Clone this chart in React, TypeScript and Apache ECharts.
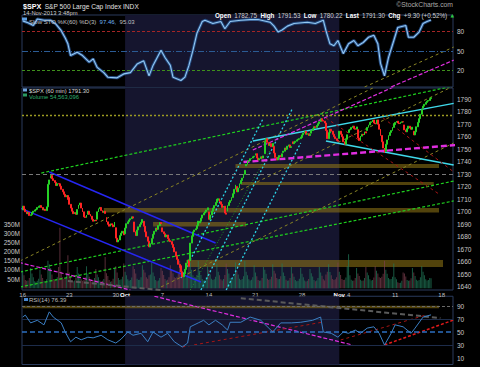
import React, { useEffect, useRef } from "react";
import * as echarts from "echarts";

const FONT = "'Liberation Sans', Arial, sans-serif";

// ---------------- data ----------------
// 60-minute bars, 7 per session, Sep 16 .. Nov 14 2013
const dayOpens = [1701.5, 1697.7, 1705.0, 1727.0, 1722.4, 1711.4, 1702.6, 1698.0, 1694.1, 1695.5, 1687.3, 1682.4, 1691.9, 1692.4, 1678.8, 1687.2, 1676.2, 1656.9, 1660.9, 1691.1, 1699.9, 1709.2, 1700.5, 1720.2, 1736.7, 1745.2, 1746.5, 1752.3, 1747.5, 1756.0, 1759.4, 1762.9, 1772.3, 1763.2, 1758.7, 1763.4, 1765.7, 1765.0, 1770.7, 1748.4, 1769.7, 1769.5, 1764.4, 1782.8];

const hourlyCloses = [
  [1704.5, 1702.0, 1700.0, 1698.5, 1699.5, 1697.0, 1697.6],
  [1699.5, 1700.5, 1701.5, 1702.0, 1703.5, 1704.5, 1704.8],
  [1703.5, 1701.5, 1702.0, 1701.0, 1704.0, 1722.0, 1725.5],
  [1729.0, 1726.5, 1725.0, 1723.5, 1721.0, 1722.5, 1722.3],
  [1720.5, 1718.0, 1716.0, 1714.0, 1712.0, 1713.0, 1709.9],
  [1706.0, 1703.0, 1700.5, 1698.5, 1699.5, 1698.0, 1701.8],
  [1705.5, 1707.0, 1703.0, 1700.0, 1696.0, 1695.5, 1697.4],
  [1700.5, 1698.0, 1696.5, 1694.0, 1692.5, 1693.5, 1692.8],
  [1700.0, 1702.5, 1703.5, 1701.0, 1699.5, 1700.5, 1698.7],
  [1692.0, 1690.0, 1688.5, 1690.5, 1689.5, 1688.0, 1691.8],
  [1679.0, 1676.0, 1677.5, 1681.0, 1683.0, 1684.5, 1681.6],
  [1687.0, 1690.5, 1692.0, 1693.5, 1694.5, 1696.0, 1695.0],
  [1684.0, 1681.0, 1685.5, 1688.0, 1690.0, 1691.5, 1693.9],
  [1688.5, 1684.0, 1680.0, 1676.5, 1672.0, 1674.5, 1678.7],
  [1682.0, 1684.5, 1687.0, 1686.0, 1689.0, 1691.5, 1690.5],
  [1684.0, 1682.5, 1680.0, 1681.5, 1678.5, 1677.0, 1676.1],
  [1674.0, 1671.5, 1668.0, 1664.5, 1662.0, 1658.0, 1655.5],
  [1652.0, 1648.0, 1650.5, 1654.0, 1659.0, 1661.5, 1656.4],
  [1675.0, 1680.5, 1684.0, 1685.5, 1686.5, 1689.0, 1692.6],
  [1692.5, 1695.0, 1697.5, 1699.0, 1700.0, 1701.5, 1703.2],
  [1694.0, 1697.5, 1700.5, 1703.0, 1705.0, 1707.5, 1710.1],
  [1710.5, 1708.0, 1706.0, 1703.5, 1704.5, 1699.0, 1698.1],
  [1705.0, 1707.5, 1709.0, 1711.5, 1714.5, 1718.0, 1721.5],
  [1716.0, 1719.0, 1722.5, 1725.0, 1727.0, 1730.0, 1733.2],
  [1738.0, 1740.5, 1741.0, 1742.5, 1743.0, 1744.0, 1744.5],
  [1746.5, 1743.0, 1741.5, 1742.5, 1744.0, 1743.0, 1744.7],
  [1756.0, 1758.5, 1755.5, 1753.0, 1754.5, 1752.0, 1754.7],
  [1747.0, 1743.5, 1741.5, 1743.5, 1745.0, 1744.0, 1746.4],
  [1748.5, 1751.0, 1750.0, 1752.5, 1753.5, 1751.5, 1752.1],
  [1754.5, 1755.5, 1756.5, 1757.5, 1758.0, 1758.5, 1759.8],
  [1761.5, 1763.0, 1764.5, 1762.0, 1762.5, 1761.0, 1762.1],
  [1765.0, 1766.5, 1768.0, 1767.5, 1769.0, 1770.5, 1772.0],
  [1774.5, 1773.0, 1772.5, 1771.0, 1765.0, 1758.5, 1763.3],
  [1766.0, 1764.5, 1762.0, 1760.0, 1758.5, 1757.0, 1756.5],
  [1764.5, 1762.0, 1760.0, 1756.0, 1754.0, 1758.0, 1761.6],
  [1765.5, 1766.0, 1767.5, 1768.5, 1766.5, 1766.0, 1767.9],
  [1759.0, 1757.0, 1760.5, 1762.0, 1761.5, 1764.0, 1763.0],
  [1767.5, 1769.5, 1771.5, 1772.0, 1773.5, 1771.0, 1770.5],
  [1773.5, 1770.0, 1766.0, 1761.0, 1756.0, 1751.0, 1747.2],
  [1754.0, 1757.5, 1761.0, 1763.5, 1765.0, 1767.5, 1770.6],
  [1771.5, 1772.5, 1771.0, 1770.5, 1771.5, 1772.0, 1771.9],
  [1765.5, 1764.0, 1766.5, 1768.5, 1767.0, 1766.0, 1767.7],
  [1761.5, 1764.0, 1768.0, 1771.5, 1774.5, 1778.0, 1782.0],
  [1784.5, 1786.0, 1787.5, 1788.5, 1789.0, 1790.5, 1791.3],
];

// volume in millions of shares per hourly bar
const hourlyVolumesM = [
  [95, 70, 45, 40, 42, 55, 110], [80, 60, 38, 35, 40, 52, 100], [75, 55, 40, 35, 48, 150, 130],
  [110, 75, 50, 42, 45, 60, 115], [330, 90, 60, 50, 55, 80, 180], [85, 65, 45, 38, 42, 58, 115],
  [80, 70, 48, 40, 45, 60, 120], [78, 62, 40, 36, 44, 56, 105], [75, 60, 42, 38, 40, 50, 170],
  [82, 66, 44, 35, 38, 52, 110], [120, 85, 55, 45, 48, 62, 135], [90, 70, 48, 40, 44, 58, 120],
  [105, 80, 52, 44, 46, 60, 125], [100, 85, 60, 52, 70, 75, 140], [85, 65, 44, 38, 42, 55, 110],
  [95, 72, 50, 42, 46, 60, 125], [100, 82, 60, 55, 62, 78, 150], [120, 95, 65, 58, 66, 85, 160],
  [140, 100, 70, 60, 58, 72, 150], [95, 72, 50, 42, 45, 60, 120], [100, 75, 52, 45, 48, 62, 130],
  [90, 70, 48, 42, 50, 72, 135], [105, 80, 55, 48, 52, 68, 140], [95, 75, 52, 45, 50, 65, 150],
  [90, 70, 48, 42, 46, 60, 125], [85, 65, 45, 40, 42, 55, 115], [100, 78, 52, 45, 48, 62, 130],
  [95, 80, 55, 48, 50, 65, 135], [85, 66, 46, 40, 42, 56, 115], [80, 62, 44, 38, 40, 52, 110],
  [78, 60, 42, 36, 40, 50, 105], [82, 64, 45, 38, 42, 55, 115], [85, 68, 48, 42, 75, 90, 130],
  [88, 70, 50, 44, 48, 60, 140], [90, 72, 50, 44, 46, 58, 120], [185, 70, 46, 40, 42, 55, 110],
  [80, 66, 46, 40, 42, 55, 115], [85, 70, 48, 42, 45, 58, 120], [95, 80, 60, 55, 62, 78, 150],
  [100, 78, 55, 48, 50, 62, 135], [60, 48, 32, 28, 30, 40, 85], [80, 64, 45, 40, 42, 54, 110],
  [85, 66, 46, 40, 44, 60, 120], [90, 70, 48, 42, 45, 55, 54.6],
];

const slotCount = 324;
const tickBars = [0, 35, 70, 77, 105, 140, 175, 210, 238, 245, 280, 315];
const tickLabels = ["16", "23", "30", "Oct", "7", "14", "21", "28", "Nov", "4", "11", "18"];
const monthNames = ["Oct", "Nov"];
const octoberSpan = [77, 238];

// [bar index, value]
const slowStoch = [[0,96],[4,93],[8,89],[11,99],[16,97],[21,97],[25,91],[29,81],[32,70],[34,61],[36,43],[41,48],[45,43],[50,33],[53,38],[56,25],[61,17],[64,10],[71,9],[76,15],[81,17],[86,30],[91,35],[95,12],[98,28],[104,51],[107,40],[111,28],[113,10],[119,5],[122,10],[125,28],[128,51],[131,77],[135,95],[137,97],[143,92],[149,95],[152,84],[156,95],[164,97],[171,98],[177,98],[186,94],[189,88],[192,79],[195,82],[199,88],[204,92],[214,94],[220,92],[226,97],[228,81],[231,61],[234,58],[237,66],[241,46],[245,61],[249,66],[252,58],[256,63],[260,71],[264,74],[267,61],[269,31],[272,12],[275,40],[279,66],[282,86],[288,89],[290,71],[294,71],[298,79],[301,92],[304,95],[307,97.46]];
const rsi14 = [[0,73],[2,76],[6,64],[11,68],[16,61],[20,81],[23,73],[29,64],[32,50],[36,35],[40,42],[44,38],[49,42],[53,41],[59,45],[64,38],[70,33],[74,39],[79,50],[83,45],[89,48],[94,35],[98,50],[104,42],[109,48],[114,35],[120,27],[124,33],[126,58],[132,64],[136,68],[140,61],[145,68],[150,61],[154,53],[156,65],[164,65],[171,73],[179,68],[188,50],[194,64],[202,64],[209,65],[218,68],[224,73],[226,50],[232,48],[237,42],[241,50],[245,48],[250,53],[254,48],[259,56],[264,58],[268,48],[272,30],[277,48],[280,61],[286,58],[292,48],[295,56],[301,73],[307,76.39]];

const stochLevels = [80, 50, 20];
const rsiTickValues = [10, 30, 50, 70, 90];

// [text, bar index, price]
const priceNotes = [
  ["1729.86", 21, 1737.0], ["1703.85", 57, 1710.3], ["1691.88", 53, 1688.7], ["1696.55", 73, 1703.1],
  ["1674.99", 70, 1671.5], ["1691.94", 104, 1698.3], ["1670.36", 94, 1666.3], ["1646.47", 119, 1649.5],
  ["1696.70", 152, 1693.5], ["1759.33", 182, 1765.4], ["1775.22", 223, 1781.4], ["1768.78", 251, 1774.2],
  ["1774.54", 266, 1781.4], ["1740.50", 189, 1737.8], ["1755.72", 231, 1753.4], ["1755.76", 253, 1753.4],
  ["1746.20", 271, 1743.8], ["1760.64", 294, 1758.2],
];
const gapNote = ["GAPS", 257, 1697.2];

// [start bar, end bar, low price, high price]
const priceBands = [
  [61, 313, 1699.5, 1703.1],
  [98, 168, 1688.3, 1691.9],
  [123, 316, 1655.9, 1661.5],
  [160, 313, 1735.0, 1738.2],
  [164, 309, 1721.4, 1723.9],
];
const rsiBands = [[0, 313, 86.5, 90.5]];
const resistanceLevel = 1729.86;
const dottedLevel = 1777;

// trendline segments: [[bar, price], [bar, price]]
const mainTrendlines = {
  green: [[[14, 1731.0], [324, 1800.6]], [[-2, 1651.9], [324, 1724.6]], [[-2, 1639.9], [324, 1708.7]]],
  blue: [[[20, 1731.8], [145, 1675.1]], [[-4, 1703.9], [134, 1643.9]]],
  olive: [[[-2, 1660.7], [324, 1830.7]], [[104, 1639.9], [324, 1755.0]], [[164, 1717.5], [324, 1800.6]]],
  cyanDotted: [[[119, 1647.1], [181, 1775.0]], [[134, 1637.5], [203, 1783.0]], [[153, 1637.5], [209, 1755.0]]],
  greenDotted: [[[126, 1637.5], [186, 1749.3]]],
  cyanSolid: [[[173, 1756.6], [324, 1786.7]], [[228, 1756.6], [324, 1737.4]]],
  magenta: [[[173, 1749.4], [324, 1821.4]], [[-16, 1663.0], [81, 1637.5]]],
  magentaThick: [[[166, 1739.8], [326, 1753.4]]],
  red: [[[228, 1775.0], [314, 1713.5]], [[271, 1775.0], [337, 1721.4]]],
  grey: [[[34, 1644.7], [104, 1637.5]]],
};
const stochTrendlines = {
  olive: [[[257, -5], [324, 56]]],
  magenta: [[[277, -5], [324, 36]]],
};
const rsiTrendlines = {
  magenta: [[[99, 105], [248, 30]]],
  red: [[[120, 27], [226, 65.4]], [[239, 37.7], [303, 76]]],
  brightRed: [[[272, 30], [324, 68.5]]],
  grey: [[[164, 102], [314, 71.5]]],
};

// ---------------- styles ----------------
const LINE_STYLES: any = {
  green: { color: "#1fd01f", width: 1.2, type: [3, 2] },
  blue: { color: "#2626f2", width: 1.5, type: "solid" },
  olive: { color: "#8a8524", width: 1, type: [3, 3] },
  cyanDotted: { color: "#2bd3e6", width: 1.3, type: [2, 2] },
  greenDotted: { color: "#22b422", width: 0.8, type: [1, 2] },
  cyanSolid: { color: "#3fd9ea", width: 1.5, type: "solid" },
  magenta: { color: "#e02ee0", width: 1.2, type: [4, 2] },
  magentaThick: { color: "#e02ee0", width: 2.4, type: [6, 3] },
  red: { color: "#a51515", width: 1, type: [3, 3] },
  brightRed: { color: "#e01a1a", width: 1.5, type: [3, 2] },
  grey: { color: "#5a5a5a", width: 2, type: [5, 3] },
};
const UP = "#25d025";
const DOWN = "#ff2323";
const VOL_UP = "rgba(34,125,92,0.7)";
const VOL_DOWN = "rgba(125,64,80,0.7)";
const SHADE = "#15152e";
const BAND = "rgba(150,122,22,0.55)";
const FRAME = "#2a3b5c";

function buildOption() {
  const categories = Array.from({ length: slotCount }, (_, i) => String(i));
  const candles: number[][] = [];
  const vols: any[] = [];
  hourlyCloses.forEach((day, d) => {
    day.forEach((c, h) => {
      const o = h === 0 ? dayOpens[d] : day[h - 1];
      candles.push([o, c, Math.min(o, c), Math.max(o, c)]);
      vols.push({ value: hourlyVolumesM[d][h], itemStyle: { color: c >= o ? VOL_UP : VOL_DOWN } });
    });
  });

  const lineSet = (set: any, xi: number, yi: number) =>
    Object.keys(set).flatMap((key) =>
      set[key].map((seg: number[][]) => ({
        type: "line", xAxisIndex: xi, yAxisIndex: yi, data: seg, symbol: "none",
        silent: true, z: 4, clip: true, lineStyle: LINE_STYLES[key],
      }))
    );

  const shade = (xi: number, yi: number, y0: number) => ({
    type: "line", xAxisIndex: xi, yAxisIndex: yi, data: [[octoberSpan[0], y0]], symbol: "none",
    silent: true, z: 0, lineStyle: { opacity: 0 },
    markArea: { silent: true, itemStyle: { color: SHADE }, data: [[{ xAxis: octoberSpan[0] }, { xAxis: octoberSpan[1] }]] },
  });

  const bandSeries = (bands: number[][], xi: number, yi: number) => ({
    type: "line", xAxisIndex: xi, yAxisIndex: yi, data: [[bands[0][0], bands[0][2]]], symbol: "none",
    silent: true, z: 1, lineStyle: { opacity: 0 },
    markArea: { silent: true, itemStyle: { color: BAND }, data: bands.map((b) => [{ xAxis: b[0], yAxis: b[2] }, { xAxis: b[1], yAxis: b[3] }]) },
  });

  const xAxis = (gridIndex: number, labels: boolean) => ({
    type: "category", gridIndex, data: categories, boundaryGap: true,
    axisLine: { show: false }, axisTick: { show: false }, splitLine: { show: false },
    axisLabel: labels
      ? {
          show: true, interval: 0, color: "#bdbdbd", fontSize: 6, margin: 1.5, fontFamily: FONT,
          formatter: (_v: string, idx: number) => {
            const k = tickBars.indexOf(idx);
            if (k < 0) return "";
            const t = tickLabels[k];
            return monthNames.includes(t) ? `{m|${t}}` : t;
          },
          rich: { m: { color: "#ffffff", fontWeight: "bold", fontSize: 6, fontFamily: FONT } },
        }
      : { show: false },
  });

  const yCommon = { axisLine: { show: false }, axisTick: { show: false }, splitLine: { show: false } };
  const yLabel = (fmt: (v: number) => string) => ({ color: "#c8c8c8", fontSize: 6.5, margin: 4, fontFamily: FONT, formatter: fmt });

  const levelLine = (v: number, color: string, type: any, width = 1) => ({ yAxis: v, lineStyle: { color, type, width } });

  return {
    backgroundColor: "#000000",
    animation: false,
    textStyle: { fontFamily: FONT },
    grid: [
      { left: 22, right: 27, top: 15, height: 72, show: true, borderColor: FRAME, borderWidth: 1, backgroundColor: "transparent" },
      { left: 22, right: 27, top: 88, height: 202, show: true, borderColor: FRAME, borderWidth: 1, backgroundColor: "transparent" },
      { left: 22, right: 27, top: 296.25, height: 68.25, show: true, borderColor: FRAME, borderWidth: 1, backgroundColor: "transparent" },
    ],
    xAxis: [xAxis(0, false), xAxis(1, true), xAxis(2, false)],
    yAxis: [
      { type: "value", gridIndex: 0, min: -5, max: 105, interval: 5, position: "right", ...yCommon,
        axisLabel: yLabel((v) => (stochLevels.includes(v) ? String(v) : "")) },
      { type: "value", gridIndex: 1, min: 1637.5, max: 1799, interval: 2.5, position: "right", ...yCommon,
        axisLabel: yLabel((v) => (v % 10 === 0 && v >= 1640 && v <= 1790 ? String(v) : "")) },
      { type: "value", gridIndex: 1, min: -10, max: 1092, interval: 10, position: "left", ...yCommon,
        axisLabel: { ...yLabel((v) => (v >= 50 && v <= 350 && v % 50 === 0 ? `${v}M` : "")), margin: 2 } },
      { type: "value", gridIndex: 2, min: 0, max: 105, interval: 10, position: "right", ...yCommon,
        axisLabel: yLabel((v) => (rsiTickValues.includes(v) ? String(v) : "")) },
    ],
    series: [
      // ---- stochastic panel ----
      shade(0, 0, 50),
      ...lineSet(stochTrendlines, 0, 0),
      {
        type: "line", xAxisIndex: 0, yAxisIndex: 0, data: slowStoch, symbol: "none", silent: true, z: 5,
        lineStyle: { color: "#23497e", width: 3 },
        markLine: {
          silent: true, symbol: ["none", "none"], label: { show: false },
          data: [levelLine(80, "#a52525", [3, 2]), levelLine(50, "#2b5b94", [6, 2, 1, 2]), levelLine(20, "#3f8f1c", [3, 2])],
        },
      },
      { type: "line", xAxisIndex: 0, yAxisIndex: 0, data: slowStoch, symbol: "none", silent: true, z: 6,
        lineStyle: { color: "#94c8f2", width: 1.1 } },

      // ---- price panel ----
      shade(1, 1, 1700),
      bandSeries(priceBands, 1, 1),
      { type: "bar", xAxisIndex: 1, yAxisIndex: 2, data: vols, barWidth: 1, silent: true, z: 2 },
      {
        type: "line", xAxisIndex: 1, yAxisIndex: 1, data: [[0, resistanceLevel]], symbol: "none", silent: true, z: 3,
        lineStyle: { opacity: 0 },
        markLine: {
          silent: true, symbol: ["none", "none"], label: { show: false },
          data: [levelLine(resistanceLevel, "#7a7a7a", [4, 3]), levelLine(dottedLevel, "#9c9a22", [2, 2], 1.3)],
        },
      },
      ...lineSet(mainTrendlines, 1, 1),
      {
        type: "candlestick", xAxisIndex: 1, yAxisIndex: 1, data: candles, barWidth: 1.4, barMinWidth: 1.4, silent: true, z: 6,
        itemStyle: { color: UP, color0: DOWN, borderColor: UP, borderColor0: DOWN, borderWidth: 1 },
      },
      {
        type: "scatter", xAxisIndex: 1, yAxisIndex: 1, symbolSize: 1, silent: true, z: 8,
        itemStyle: { opacity: 0 },
        data: priceNotes.map((n) => ({ name: n[0], value: [n[1], n[2]] })),
        label: {
          show: true, position: "inside", formatter: "{b}", color: "#dcdcdc", fontSize: 6, fontFamily: FONT,
          backgroundColor: "rgba(58,62,80,0.92)", padding: [1, 1, 0, 1], borderRadius: 1,
        },
      },
      {
        type: "scatter", xAxisIndex: 1, yAxisIndex: 1, symbolSize: 1, silent: true, z: 8,
        itemStyle: { opacity: 0 },
        data: [{ name: gapNote[0], value: [gapNote[1], gapNote[2]] }],
        label: { show: true, position: "inside", formatter: "{b}", color: "#c8841e", fontSize: 6.5, fontFamily: FONT },
      },

      // ---- RSI panel ----
      shade(2, 3, 50),
      bandSeries(rsiBands, 2, 3),
      ...lineSet(rsiTrendlines, 2, 3),
      {
        type: "line", xAxisIndex: 2, yAxisIndex: 3, data: rsi14, symbol: "none", silent: true, z: 5,
        lineStyle: { color: "#3b7fc4", width: 1 },
        markLine: {
          silent: true, symbol: ["none", "none"], label: { show: false },
          data: [levelLine(90, "#6a6a6a", [3, 2]), levelLine(70, "#1d2c4a", "solid"), levelLine(50, "#2d6fc0", [5, 3], 1.6), levelLine(30, "#1d2c4a", "solid")],
        },
      },
    ],
    graphic: [
      { type: "text", left: 23, top: 0.5, z: 100, style: {
        text: "{a|$SPX} {b|S&P 500 Large Cap Index INDX}",
        rich: { a: { fill: "#ffffff", fontWeight: "bold", fontSize: 7.2, lineHeight: 7.5, fontFamily: FONT }, b: { fill: "#e0e0e0", fontSize: 6.6, lineHeight: 7.5, fontFamily: FONT } } } },
      { type: "text", left: 23, top: 9.8, z: 100, style: { text: "14-Nov-2013 3:48pm", fill: "#cfcfcf", fontSize: 5.8, lineHeight: 5.8, fontFamily: FONT } },
      { type: "text", right: 27, top: 0.5, z: 100, style: { text: "©StockCharts.com", fill: "#a8a8a8", fontSize: 6.8, lineHeight: 7.5, fontFamily: FONT } },
      { type: "text", right: 26, top: 9.5, z: 100, style: {
        text: "{k|Open} {v|1782.75} {k|High} {v|1791.53} {k|Low} {v|1780.22} {k|Last} {v|1791.30} {k|Chg} {v|+9.30 (+0.52%)} {g|▲}",
        rich: {
          k: { fill: "#ffffff", fontWeight: "bold", fontSize: 6.3, lineHeight: 6.5, fontFamily: FONT },
          v: { fill: "#cfcfcf", fontSize: 6.3, lineHeight: 6.5, fontFamily: FONT },
          g: { fill: "#2ecc40", fontSize: 4.5, lineHeight: 6.5, fontFamily: "DejaVu Sans" },
        } } },
      // stochastic legend
      { type: "rect", left: 22, top: 17.5, z: 100, shape: { width: 5, height: 3 }, style: { fill: "#5f9fe0" } },
      { type: "text", left: 29, top: 16, z: 100, style: {
        text: "{a|Slow STO %K(60) %D(3)} {b|97.46,} {a|95.03}",
        rich: { a: { fill: "#c0c0c0", fontSize: 6, lineHeight: 6, fontFamily: FONT }, b: { fill: "#6fb4f2", fontSize: 6, lineHeight: 6, fontFamily: FONT } } } },
      // price legend
      { type: "rect", left: 23, top: 88.5, z: 100, shape: { width: 4, height: 3 }, style: { fill: "#6fa2dd" } },
      { type: "text", left: 29, top: 87.5, z: 100, style: { text: "$SPX (60 min) 1791.30", fill: "#d8d8d8", fontSize: 5.8, lineHeight: 5.8, fontFamily: FONT } },
      { type: "rect", left: 23, top: 93.5, z: 100, shape: { width: 4, height: 3 }, style: { fill: "#2a9a62" } },
      { type: "text", left: 29, top: 93.5, z: 100, style: { text: "Volume 54,563,096", fill: "#2fb070", fontSize: 5.8, lineHeight: 5.8, fontFamily: FONT } },
      // RSI legend
      { type: "rect", left: 24, top: 298, z: 100, shape: { width: 4, height: 3 }, style: { fill: "#4a88d0" } },
      { type: "text", left: 29, top: 297, z: 100, style: { text: "RSI(14) 76.39", fill: "#bfbfbf", fontSize: 6, lineHeight: 6, fontFamily: FONT } },
    ],
  };
}

export default function App() {
  const ref = useRef<HTMLDivElement>(null);
  useEffect(() => {
    if (!ref.current) return;
    const chart = echarts.init(ref.current, null, { renderer: "svg" });
    chart.setOption(buildOption() as any);
    return () => chart.dispose();
  }, []);
  return (
    <div
      ref={ref}
      style={{ position: "fixed", left: 0, top: 0, width: 480, height: 367, background: "#000" }}
    />
  );
}
